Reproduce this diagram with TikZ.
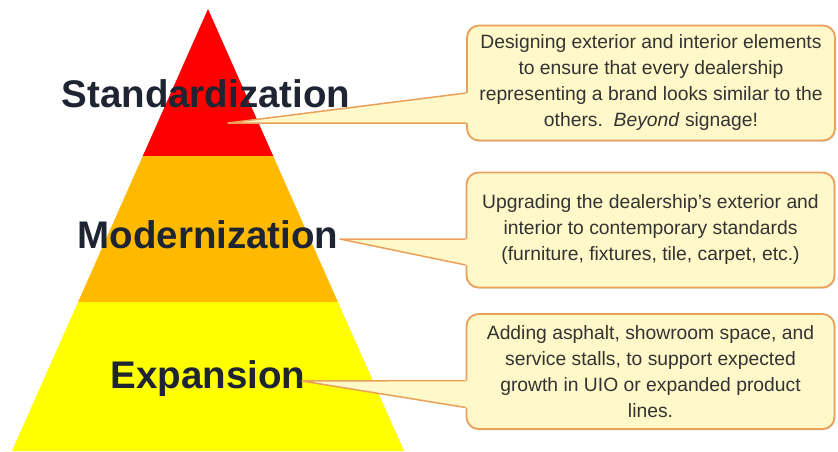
\documentclass[tikz,border=0pt]{standalone}
\usepackage{fontspec}
\setmainfont{Liberation Sans}
\usetikzlibrary{calc,shadows}

\definecolor{tierred}{HTML}{FF0000}
\definecolor{tierorange}{HTML}{FFBA00}
\definecolor{tieryellow}{HTML}{FFFF00}
\definecolor{labelink}{HTML}{1E2432}
\definecolor{noteedge}{HTML}{EBA05A}
\definecolor{notefill}{HTML}{FFF8C8}
\definecolor{noteink}{HTML}{333333}

\tikzset{
    tier label/.style={font=\fontsize{38.5}{40}\selectfont\bfseries, text=labelink, anchor=base, inner sep=0pt},
    note/.style={draw=noteedge, line width=1.8pt, fill=notefill, rounded corners=12pt,
        minimum width=368pt, minimum height=115pt, align=center, text=noteink,
        font=\fontsize{19.3}{26}\selectfont,
        drop shadow={opacity=0.18, shadow xshift=1pt, shadow yshift=-1.5pt}},
    note line/.style={draw=noteedge, line width=1.5pt, line join=round},
}

\begin{document}
\begin{tikzpicture}[x=1pt, y=-1pt]
    \useasboundingbox (0,0) rectangle (838,451);

    % Pyramid corners
    \coordinate (apex) at (208,9);
    \coordinate (redL) at (142.8,156);
    \coordinate (redR) at (273.2,156);
    \coordinate (orgL) at (78.1,302);
    \coordinate (orgR) at (337.9,302);
    \coordinate (baseL) at (12,451);
    \coordinate (baseR) at (404,451);

    % Tiers, top to bottom
    \fill[tierred] (apex) -- (redR) -- (redL) -- cycle;
    \fill[tierorange] (redL) -- (redR) -- (orgR) -- (orgL) -- cycle;
    \fill[tieryellow] (orgL) -- (orgR) -- (baseR) -- (baseL) -- cycle;

    % Tier names
    \node[tier label] (stdlabel) at (206,107) {Standardization};
    \node[tier label] (modlabel) at (208,248) {Modernization};
    \node[tier label] (explabel) at (208,388) {Expansion};

    % Notes
    \node[note] (stdnote) at (651,83) {Designing exterior and interior elements\\
        to ensure that every dealership\\
        representing a brand looks similar to the\\
        others.~~\textit{Beyond} signage!};
    \node[note] (modnote) at (650.5,230) {Upgrading the dealership’s exterior and\\
        interior to contemporary standards\\
        (furniture, fixtures, tile, carpet, etc.)};
    \node[note] (expnote) at (650.5,371.5) {Adding asphalt, showroom space, and\\
        service stalls, to support expected\\
        growth in UIO or expanded product\\
        lines.};

    % Pointer tips
    \coordinate (stdtip) at (228,123);
    \coordinate (modtip) at (340,239);
    \coordinate (exptip) at (302,381);

    % Pointers: fill over the border, then the two edges
    \foreach \tip/\nt/\ya/\yb in {stdtip/stdnote/10/40, modtip/modnote/9/35, exptip/expnote/9/36} {
        \fill[notefill] (\tip) -- ($(\nt.west)+(0,\ya)$) -- ($(\nt.west)+(2.5,\ya)$)
            -- ($(\nt.west)+(2.5,\yb)$) -- ($(\nt.west)+(0,\yb)$) -- cycle;
        \draw[note line] ($(\nt.west)+(0,\ya)$) -- (\tip) -- ($(\nt.west)+(0,\yb)$);
    }
\end{tikzpicture}
\end{document}
